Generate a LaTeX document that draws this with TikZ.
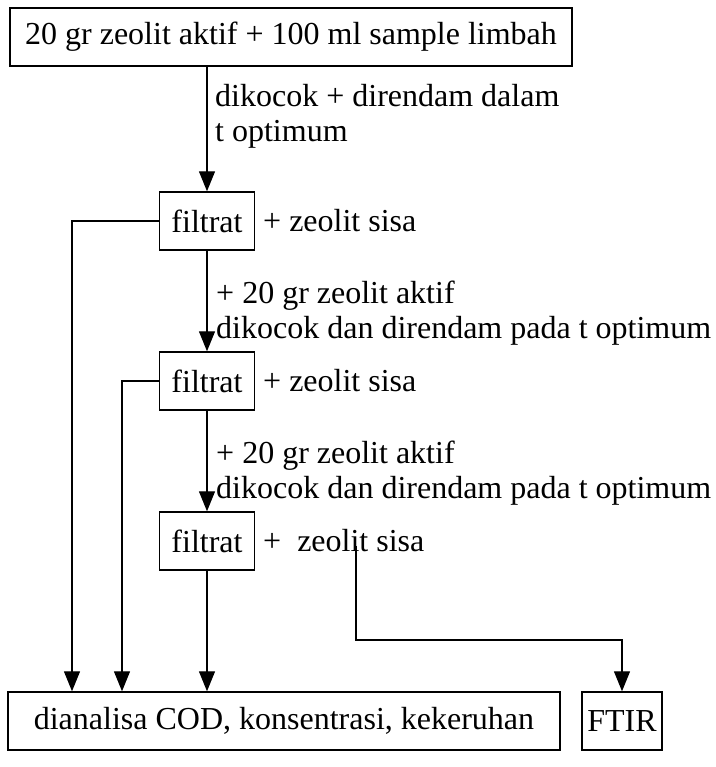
\documentclass[tikz,border=0pt]{standalone}
\usepackage{fontspec}
\setmainfont{Liberation Serif}
\usetikzlibrary{arrows.meta}
\usetikzlibrary{positioning}

\begin{document}
\begin{tikzpicture}[
    x=1pt, y=-1pt,
    font=\fontsize{32}{35}\selectfont
]
\tikzset{
    stepbox/.style = {rectangle, draw=black, line width=1.4pt, align=center, minimum height=58pt, inner sep=0pt},
    note/.style = {anchor=west, align=left, inner sep=0pt},
    edgen/.style = {-{Triangle[length=20pt,width=16pt]}, line width=1.2pt}
}
\useasboundingbox (0,0) rectangle (715,767);
\node[stepbox, minimum width=562pt] at (291,37)  (top) {20 gr zeolit aktif + 100 ml sample limbah};
\node[stepbox, minimum width=95pt]  at (207,221) (f1) {filtrat};
\node[stepbox, minimum width=95pt]  at (207,381) (f2) {filtrat};
\node[stepbox, minimum width=95pt]  at (207,541) (f3) {filtrat};
\node[stepbox, minimum width=552pt] at (284,721) (hasil) {dianalisa COD, konsentrasi, kekeruhan};
\node[stepbox, minimum width=80pt]  at (622,721) (ftir) {FTIR};
% keterangan
\node[note] at (263,221) (s1) {+ zeolit sisa};
\node[note] at (263,381) (s2) {+ zeolit sisa};
\node[note] at (263,541) (s3) {+\ \ zeolit sisa};
\node[note] at (215,116) (k1) {dikocok + direndam dalam\\t optimum};
\node[note] at (216,313) (k2) {+ 20 gr zeolit aktif\\dikocok dan direndam pada t optimum};
\node[note] at (216,473) (k3) {+ 20 gr zeolit aktif\\dikocok dan direndam pada t optimum};
\coordinate (z3) at (356,546);
% alur
\draw[edgen] (top.south -| f1) -- (f1);
\draw[edgen] (f1) -- (f2);
\draw[edgen] (f2) -- (f3);
\draw[edgen] (f3) -- (f3 |- hasil.north);
\draw[edgen] (f1.west) -| (72,0 |- hasil.north);
\draw[edgen] (f2.west) -| (122,0 |- hasil.north);
\draw[edgen] (z3) -- (356,640) -| (ftir.north);
\end{tikzpicture}
\end{document}
